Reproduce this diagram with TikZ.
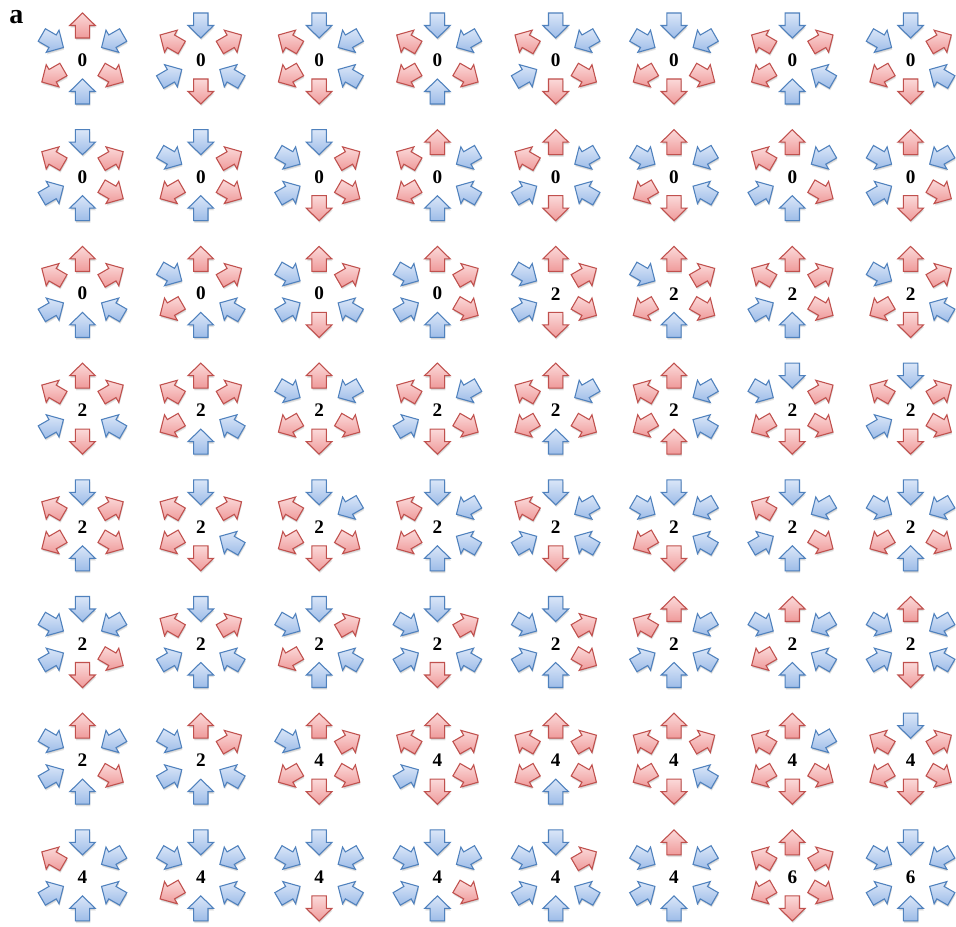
\documentclass[tikz,border=0pt]{standalone}
\usepackage{fontspec}
\setmainfont{Liberation Serif}
\definecolor{redline}{HTML}{C0504D}
\definecolor{redlight}{HTML}{FBD9D9}
\definecolor{reddark}{HTML}{EF9A9A}
\definecolor{blueline}{HTML}{4F81BD}
\definecolor{bluelight}{HTML}{DAE6F8}
\definecolor{bluedark}{HTML}{9DBCE8}
\tikzset{
  shadowa/.style={fill=black, opacity=0.10},
  shadowb/.style={fill=black, opacity=0.10},
  outarr/.style={draw=redline, top color=redlight, bottom color=reddark, line width=0.8pt, line join=miter},
  inarr/.style={draw=blueline, top color=bluelight, bottom color=bluedark, line width=0.8pt, line join=miter},
  numlab/.style={font=\fontsize{14.4}{14.4}\selectfont\bfseries, inner sep=0pt},
  panellab/.style={font=\fontsize{21}{21}\selectfont\bfseries, inner sep=0pt}
}
\newcommand\outpath{(20.5,-7.2) -- (33,-7.2) -- (33,-12.8) -- (45.5,0) -- (33,12.8) -- (33,7.2) -- (20.5,7.2) -- cycle}
\newcommand\inpath{(45.5,-7.2) -- (33,-7.2) -- (33,-12.8) -- (20.5,0) -- (33,12.8) -- (33,7.2) -- (45.5,7.2) -- cycle}
% #1 cx, #2 cy, #3 angle, #4 code (O out red, I in blue, R in red), #5 radial extra
\newcommand\harrow[5]{%
  \ifx O#4\def\thispath{\outpath}\def\thisstyle{outarr}\fi
  \ifx I#4\def\thispath{\inpath}\def\thisstyle{inarr}\fi
  \ifx R#4\def\thispath{\inpath}\def\thisstyle{outarr}\fi
  \begin{scope}[shift={(#1+0.7,#2-2.2)}, rotate=#3, shift={(#5,0)}]
    \fill[shadowa] \thispath;
  \end{scope}
  \begin{scope}[shift={(#1+0.4,#2-1.2)}, rotate=#3, shift={(#5,0)}]
    \fill[shadowb] \thispath;
  \end{scope}
  \begin{scope}[shift={(#1,#2)}, rotate=#3, shift={(#5,0)}]
    \path[\thisstyle] \thispath;
  \end{scope}}
% #1 col, #2 row, #3 number, #4..#9 codes for top, upper right, lower right, bottom, lower left, upper left
\def\hexcell#1#2#3#4#5#6#7#8#9{%
  \pgfmathsetmacro\cx{82.5+118.3*(#1-1)}%
  \pgfmathsetmacro\cy{-(58.5+116.7*(#2-1))}%
  \harrow{\cx}{\cy}{90}{#4}{0}%
  \harrow{\cx}{\cy}{30}{#5}{1.5}%
  \harrow{\cx}{\cy}{-30}{#6}{1.5}%
  \harrow{\cx}{\cy}{-90}{#7}{0}%
  \harrow{\cx}{\cy}{-150}{#8}{1.5}%
  \harrow{\cx}{\cy}{150}{#9}{1.5}%
  \node[numlab] (n#1#2) at (\cx,\cy-1.8) {#3};%
}
\begin{document}
\begin{tikzpicture}[x=0.75pt,y=0.75pt]
\fill[white] (0,0) rectangle (956,-927);
\useasboundingbox (0,0) rectangle (956,-927);
\node[panellab] (lbl) at (16.5,-17) {a};
% row 1
\hexcell{1}{1}{0}OIOIOI
\hexcell{2}{1}{0}IOIOIO
\hexcell{3}{1}{0}IIIOOO
\hexcell{4}{1}{0}IIOIOO
\hexcell{5}{1}{0}IIOOIO
\hexcell{6}{1}{0}IIOOOI
\hexcell{7}{1}{0}IOIIOO
\hexcell{8}{1}{0}IOIOOI
% row 2
\hexcell{1}{2}{0}IOOIIO
\hexcell{2}{2}{0}IOOIOI
\hexcell{3}{2}{0}IOOOII
\hexcell{4}{2}{0}OIIIOO
\hexcell{5}{2}{0}OIIOIO
\hexcell{6}{2}{0}OIIOOI
\hexcell{7}{2}{0}OIOIIO
\hexcell{8}{2}{0}OIOOII
% row 3
\hexcell{1}{3}{0}OOIIIO
\hexcell{2}{3}{0}OOIIOI
\hexcell{3}{3}{0}OOIOII
\hexcell{4}{3}{0}OOOIII
\hexcell{5}{3}{2}OOOOII
\hexcell{6}{3}{2}OOOIOI
\hexcell{7}{3}{2}OOOIIO
\hexcell{8}{3}{2}OOIOOI
% row 4
\hexcell{1}{4}{2}OOIOIO
\hexcell{2}{4}{2}OOIIOO
\hexcell{3}{4}{2}OIOOOI
\hexcell{4}{4}{2}OIOOIO
\hexcell{5}{4}{2}OIOIOO
\hexcell{6}{4}{2}OIIROO
\hexcell{7}{4}{2}IOOOOI
\hexcell{8}{4}{2}IOOOIO
% row 5
\hexcell{1}{5}{2}IOOIOO
\hexcell{2}{5}{2}IOIOOO
\hexcell{3}{5}{2}IIOOOO
\hexcell{4}{5}{2}IIIIOO
\hexcell{5}{5}{2}IIIOIO
\hexcell{6}{5}{2}IIIOOI
\hexcell{7}{5}{2}IIOIIO
\hexcell{8}{5}{2}IIOIOI
% row 6
\hexcell{1}{6}{2}IIOOII
\hexcell{2}{6}{2}IOIIIO
\hexcell{3}{6}{2}IOIIOI
\hexcell{4}{6}{2}IOIOII
\hexcell{5}{6}{2}IOOIII
\hexcell{6}{6}{2}OIIIIO
\hexcell{7}{6}{2}OIIIOI
\hexcell{8}{6}{2}OIIOII
% row 7
\hexcell{1}{7}{2}OIOIII
\hexcell{2}{7}{2}OOIIII
\hexcell{3}{7}{4}OOOOOI
\hexcell{4}{7}{4}OOOOIO
\hexcell{5}{7}{4}OOOIOO
\hexcell{6}{7}{4}OOIOOO
\hexcell{7}{7}{4}OIOOOO
\hexcell{8}{7}{4}IOOOOO
% row 8
\hexcell{1}{8}{4}IIIIIO
\hexcell{2}{8}{4}IIIIOI
\hexcell{3}{8}{4}IIIOII
\hexcell{4}{8}{4}IIOIII
\hexcell{5}{8}{4}IOIIII
\hexcell{6}{8}{4}OIIIII
\hexcell{7}{8}{6}OOOOOO
\hexcell{8}{8}{6}IIIIII
\end{tikzpicture}
\end{document}
